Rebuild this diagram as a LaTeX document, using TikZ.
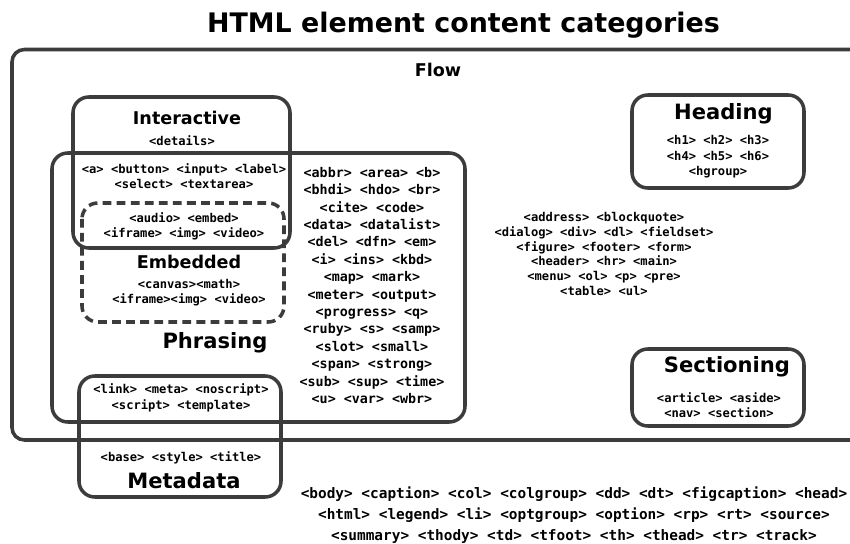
\documentclass[tikz,border=0pt]{standalone}
\usepackage{fontspec}
\setmainfont{DejaVu Sans}
\setmonofont{DejaVu Sans Mono}
\usepackage{tikz}
\usepackage{xcolor}
\usetikzlibrary{positioning}

\definecolor{boxgray}{HTML}{3C3C3C}

\begin{document}
\begin{tikzpicture}[x=0.02cm,y=-0.02cm]
\tikzstyle{every node}+=[inner sep=0pt, align=center]
\tikzstyle{catbox}=[draw=boxgray, line width=2pt, rounded corners=9pt]
\tikzstyle{dashbox}=[catbox, dash pattern=on 5pt off 3pt]
\tikzstyle{cattitle}=[font=\bfseries\fontsize{12}{14}\selectfont]
\tikzstyle{tags}=[font=\ttfamily\bfseries\fontsize{6.9}{8.5}\selectfont]
\tikzstyle{bigtags}=[font=\ttfamily\bfseries\fontsize{7.6}{9.9}\selectfont]
\clip (0,0) rectangle (850,544);
\fill [white] (0,0) rectangle (850,544);
% boxes
\draw [catbox, rounded corners=7pt] (12,49.5) rectangle (890,440);
\draw [catbox] (73,97) rectangle (290,248);
\draw [catbox] (52,153) rectangle (465,422);
\draw [dashbox] (82,203) rectangle (284,322);
\draw [catbox] (79,376) rectangle (281,497);
\draw [catbox] (632,95) rectangle (804,188);
\draw [catbox] (632,349) rectangle (804,426);
% titles
\node (title) at (463.5,33) [anchor=base, font=\bfseries\fontsize{15.3}{18}\selectfont] {HTML element content categories};
\node (flow) at (438,70) [cattitle, font=\bfseries\fontsize{10}{12}\selectfont] {Flow};
\node (interactive) at (187,118) [cattitle, font=\bfseries\fontsize{10}{12}\selectfont] {Interactive};
\node (embedded) at (189,262) [cattitle, font=\bfseries\fontsize{10}{12}\selectfont] {Embedded};
\node (phrasing) at (215,343) [cattitle] {Phrasing};
\node (heading) at (723.5,114) [cattitle] {Heading};
\node (sectioning) at (727,367) [cattitle] {Sectioning};
\node (metadata) at (184,481) [cattitle] {Metadata};
% tags
\node (details) at (182,141) [tags] {<details>};
\node (interonly) at (184,176.5) [tags] {<a> <button> <input> <label>\\<select> <textarea>};
\node (interembed) at (184,226) [tags] {<audio> <embed>\\<iframe> <img> <video>};
\node (embedonly) at (189,293) [tags] {<canvas><math>\\<iframe><img> <video>};
\node (phrasetags) at (372,285.5) [bigtags] {<abbr> <area> <b>\\<bhdi> <hdo> <br>\\<cite> <code>\\<data> <datalist>\\<del> <dfn> <em>\\<i> <ins> <kbd>\\<map> <mark>\\<meter> <output>\\<progress> <q>\\<ruby> <s> <samp>\\<slot> <small>\\<span> <strong>\\<sub> <sup> <time>\\<u> <var> <wbr>};
\node (flowtags) at (604,254) [tags, font=\ttfamily\bfseries\fontsize{6.9}{8.4}\selectfont] {<address> <blockquote>\\<dialog> <div> <dl> <fieldset>\\<figure> <footer> <form>\\<header> <hr> <main>\\<menu> <ol> <p> <pre>\\<table> <ul>};
\node (headtags) at (718,157) [tags, font=\ttfamily\bfseries\fontsize{6.9}{8.8}\selectfont] {<h1> <h2> <h3>\\<h4> <h5> <h6>\\<hgroup>};
\node (secttags) at (719,405.5) [tags] {<article> <aside>\\<nav> <section>};
\node (metaflow) at (181,398) [tags, font=\ttfamily\bfseries\fontsize{6.9}{9}\selectfont] {<link> <meta> <noscript>\\<script> <template>};
\node (metaonly) at (181,458) [tags] {<base> <style> <title>};
\node (othertags) at (574,515) [font=\ttfamily\bfseries\fontsize{8.2}{11.8}\selectfont] {<body> <caption> <col> <colgroup> <dd> <dt> <figcaption> <head>\\<html> <legend> <li> <optgroup> <option> <rp> <rt> <source>\\<summary> <thody> <td> <tfoot> <th> <thead> <tr> <track>};
\end{tikzpicture}
\end{document}
